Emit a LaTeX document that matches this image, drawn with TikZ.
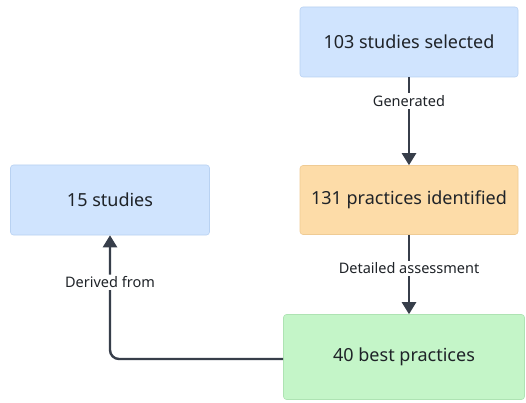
\documentclass[tikz,border=0pt]{standalone}
\usepackage{fontspec}
\setmainfont{Noto Sans}
\usetikzlibrary{arrows.meta}
\definecolor{bluefill}{HTML}{D0E4FE}
\definecolor{blueline}{HTML}{B9D2F2}
\definecolor{orangefill}{HTML}{FDDCA8}
\definecolor{orangeline}{HTML}{EFCB94}
\definecolor{greenfill}{HTML}{C4F5C8}
\definecolor{greenline}{HTML}{AEE3B3}
\definecolor{edgecol}{HTML}{373E4A}
\definecolor{textcol}{HTML}{1F2328}
\tikzset{
  box/.style={draw, line width=0.6pt, rounded corners=3pt, inner sep=0pt,
    font=\fontsize{18}{21}\selectfont, text=textcol},
  bluebox/.style={box, fill=bluefill, draw=blueline},
  orangebox/.style={box, fill=orangefill, draw=orangeline},
  greenbox/.style={box, fill=greenfill, draw=greenline},
  flow/.style={draw=edgecol, line width=2.4pt, -{Triangle[length=12pt,width=14pt]}},
  lbl/.style={fill=white, inner sep=2pt, font=\fontsize{14.5}{17}\selectfont, text=textcol},
}
\begin{document}
\begin{tikzpicture}[x=1pt,y=-1pt]
  \useasboundingbox[fill=white] (0,0) rectangle (526,403);
  \node[bluebox, minimum width=218pt, minimum height=70pt] (sel) at (409,42) {103 studies selected};
  \node[orangebox, minimum width=218pt, minimum height=69pt] (prac) at (409,200) {131 practices identified};
  \node[bluebox, minimum width=199pt, minimum height=70pt] (fifteen) at (110,200) {15 studies};
  \node[greenbox, minimum width=241pt, minimum height=85pt] (best) at (404,357) {40 best practices};
  \draw[flow] (sel.south -| 409,0) -- node[lbl, pos=0.27] {Generated} (prac.north -| 409,0);
  \draw[flow] (prac.south -| 409,0) -- node[lbl, pos=0.42] {Detailed assessment} (best.north -| 409,0);
  \coordinate (turn) at (110,359);
  \draw[flow, rounded corners=9pt] (best.west |- turn) -- (turn) -- node[lbl, pos=0.62] {Derived from} (fifteen.south);
\end{tikzpicture}
\end{document}
